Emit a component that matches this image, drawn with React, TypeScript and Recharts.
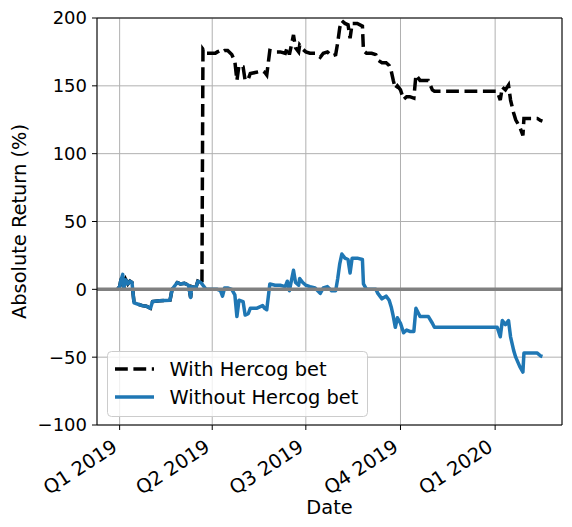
import React from "react";
import { LineChart, Line, XAxis, YAxis, CartesianGrid, ReferenceLine } from "recharts";

// x values are days counted from 2019-01-01
const dayOffsets = [
  -2, 0, 1, 3, 4, 6, 8, 10, 12, 14, 18, 22, 26, 30, 32, 39, 49, 51, 54, 56, 59, 63, 67, 69, 70, 74, 76, 79, 80,
  81, 84, 88, 93, 95, 98, 100, 102, 105, 109, 112, 114, 116, 120, 122, 125, 127, 133, 139, 141, 143, 146, 151,
  156, 161, 163, 165, 169, 171, 174, 175, 178, 181, 185, 190, 195, 198, 202, 206, 210, 212, 214, 216, 219, 222,
  224, 226, 231, 236, 237, 240, 245, 249, 251, 255, 259, 262, 264, 266, 268, 270, 273, 276, 279, 282, 286, 288,
  292, 300, 304, 306, 331, 367, 370, 372, 375, 378, 380, 383, 385, 389, 392, 393, 399, 406, 409, 411,
];

const withBet = [
  0, 2, 6, 11, 1, 7, 4, 6, 5, -10, -11, -12, -12.5, -14, -9, -8.5, -8, 0, 3, 5, 4, 4.5, 3, -6, 2, 1, 6, 5, 4,
  177, 174, 174, 174, 175, 176, 175, 176, 176, 173, 168, 154, 165, 164, 154, 155, 159, 160, 161, 160, 158, 176, 175,
  175, 174, 178.5, 173, 187.5, 178, 175, 180, 177, 175, 174, 174, 171, 174, 175, 172, 173, 182, 193, 198, 196, 195,
  185, 196, 196, 194, 176, 174, 174, 173, 169, 167, 167, 165, 161, 154, 148, 150, 147, 140, 142, 142, 141, 158,
  154, 154, 147, 146, 146, 146, 139.5, 149, 147, 150.5, 139.5, 130, 125, 119.5, 113.5, 126, 126, 126, 124.5, 124,
];

const withoutBet = [
  0, 2, 6, 11, 1, 7, 4, 6, 5, -10, -11, -12, -12.5, -14, -9, -8.5, -8, 0, 3, 5, 4, 4.5, 3, -6, 2, 1, 6, 5, 4,
  3, 0, 0, 0, 0, -1, -5, 1, 1, 0, -4, -20, -8, -9, -19, -18, -14, -14, -12, -14, -15, 4, 3,
  3, 2, 6, -1, 14, 5, 3, 8, 5, 3, 2, 1, -3, 1, 2, -1, -1, 8, 19, 26, 23, 22,
  12, 23, 23, 22, 4, 0, 0, 0, -3, -7, -5, -8, -13, -20, -28, -21, -25, -32, -30, -31, -31, -14,
  -20, -20, -25, -28, -28, -28, -35, -23, -26, -23, -35, -45, -50, -57, -61, -47, -47, -47, -49, -49.5,
];

const quarterDays = [0, 90, 181, 273, 365];
const quarterLabels = ["Q1 2019", "Q2 2019", "Q3 2019", "Q4 2019", "Q1 2020"];
const yTicks = [-100, -50, 0, 50, 100, 150, 200];

const data = dayOffsets.map((day, i) => ({
  day,
  withBet: withBet[i],
  withoutBet: withoutBet[i],
}));

const FONT = "'DejaVu Sans', sans-serif";
const BLUE = "#1f77b4";

function QuarterTick({ x, y, payload }: any) {
  const label = quarterLabels[quarterDays.indexOf(payload.value)];
  const ax = x - 1;
  const ay = y + 18;
  return (
    <text
      x={ax}
      y={ay}
      transform={`rotate(-33 ${ax} ${ay})`}
      textAnchor="end"
      fontSize={19.4}
      fontFamily={FONT}
      fill="#000"
    >
      {label}
    </text>
  );
}

function Overlay() {
  return (
    <svg width={572} height={527} style={{ position: "absolute", left: 0, top: 0, pointerEvents: "none" }}>
      <text x={329.5} y={514} textAnchor="middle" fontSize={19.4} fontFamily={FONT} fill="#000">
        Date
      </text>
      <text
        x={26}
        y={221.5}
        transform="rotate(-90 26 221.5)"
        textAnchor="middle"
        fontSize={19.4}
        fontFamily={FONT}
        fill="#000"
      >
        Absolute Return (%)
      </text>
      <g transform="translate(107 351)">
        <rect x={0.5} y={0.5} width={260} height={65} rx={4} fill="#fff" fillOpacity={0.8} stroke="#cccccc" />
        <line x1={8} x2={47} y1={18} y2={18} stroke="#000" strokeWidth={3.5} strokeDasharray="12.8 5.6" />
        <text x={62.5} y={25} fontSize={19.4} fontFamily={FONT} fill="#000">
          With Hercog bet
        </text>
        <line x1={8} x2={47} y1={46} y2={46} stroke={BLUE} strokeWidth={3.5} />
        <text x={62.5} y={53} fontSize={19.4} fontFamily={FONT} fill="#000">
          Without Hercog bet
        </text>
      </g>
    </svg>
  );
}

export default function App() {
  return (
    <div style={{ position: "absolute", left: 0, top: 0, width: 572, height: 527, background: "#fff" }}>
      <LineChart width={572} height={527} data={data} margin={{ top: 18, right: 10, left: 0, bottom: 0 }}>
        <CartesianGrid stroke="#b0b0b0" strokeWidth={1} />
        <XAxis
          dataKey="day"
          type="number"
          domain={[-22, 430]}
          allowDataOverflow
          ticks={quarterDays}
          tick={<QuarterTick />}
          tickSize={5}
          height={102}
          axisLine={{ stroke: "#000" }}
          tickLine={{ stroke: "#000" }}
        />
        <YAxis
          type="number"
          domain={[-100, 200]}
          ticks={yTicks}
          width={97}
          tickSize={5}
          tickMargin={5}
          tickFormatter={(v: number) => (v < 0 ? `\u2212${Math.abs(v)}` : String(v))}
          tick={{ fontSize: 18, fontFamily: FONT, fill: "#000" }}
          axisLine={{ stroke: "#000" }}
          tickLine={{ stroke: "#000" }}
        />
        <Line
          type="linear"
          dataKey="withBet"
          stroke="#000"
          strokeWidth={3.5}
          strokeDasharray="12.8 5.6"
          dot={false}
          activeDot={false}
          isAnimationActive={false}
        />
        <Line
          type="linear"
          dataKey="withoutBet"
          stroke={BLUE}
          strokeWidth={3.5}
          strokeLinejoin="round"
          dot={false}
          activeDot={false}
          isAnimationActive={false}
        />
        <ReferenceLine y={0} stroke="#808080" strokeWidth={3.5} />
        <ReferenceLine y={200} stroke="#000" strokeWidth={1} />
        <ReferenceLine x={430} stroke="#000" strokeWidth={1} />
      </LineChart>
      <Overlay />
    </div>
  );
}
